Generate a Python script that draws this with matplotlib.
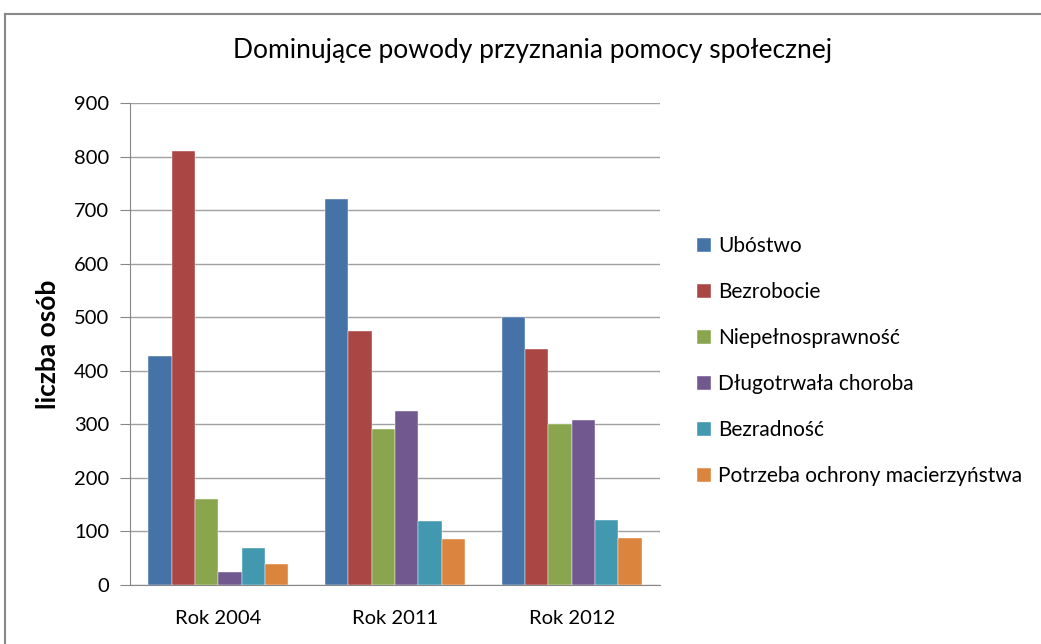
import numpy as np
import matplotlib.pyplot as plt
from matplotlib.lines import Line2D

plt.rcParams['font.family'] = ['Lato', 'DejaVu Sans']

lata = ['Rok 2004', 'Rok 2011', 'Rok 2012']
powody = ['Ubóstwo', 'Bezrobocie', 'Niepełnosprawność', 'Długotrwała choroba',
          'Bezradność', 'Potrzeba ochrony macierzyństwa']
ubostwo = [427, 720, 500]
bezrobocie = [810, 475, 440]
niepelnosprawnosc = [160, 291, 300]
choroba = [24, 325, 309]
bezradnosc = [70, 119, 122]
macierzynstwo = [40, 86, 88]
serie = [ubostwo, bezrobocie, niepelnosprawnosc, choroba, bezradnosc, macierzynstwo]
kolory = ['#4572A7', '#AA4643', '#89A54E', '#71588F', '#4198AF', '#DB843D']

W, H = 1041, 644
fig = plt.figure(figsize=(W / 100, H / 100), dpi=100)
ax = fig.add_axes([130 / W, 1 - 585 / H, 530 / W, 482 / H])

x = np.arange(len(lata))
w = 0.132
for i, (s, k) in enumerate(zip(serie, kolory)):
    ax.bar(x + (i - 2.5) * w, s, w, color=k, label=powody[i],
           edgecolor='white', linewidth=0.3, zorder=3)

ax.set_xlim(-0.5, 2.5)
ax.set_ylim(0, 900)
ax.set_yticks(range(0, 901, 100))
ax.yaxis.grid(True, color='#a0a0a0', linewidth=1, zorder=0)
ax.set_xticks(x)
ax.set_xticklabels(lata, fontsize=14.5)
ax.tick_params(axis='x', length=0, pad=18)
ax.tick_params(axis='y', labelsize=14.5, length=7, color='#888888', pad=8)
for s in ['top', 'right']:
    ax.spines[s].set_visible(False)
for s in ['left', 'bottom']:
    ax.spines[s].set_color('#888888')
ax.set_ylabel('liczba osób', fontsize=19, fontweight='bold', labelpad=10)

fig.suptitle('Dominujące powody przyznania pomocy społecznej', fontsize=19,
             x=533 / W, y=1 - 38 / H)

fig.legend(*ax.get_legend_handles_labels(), loc='center left',
           bbox_to_anchor=(697 / W, 1 - 361 / H), frameon=False,
           fontsize=15, handlelength=0.65, handleheight=0.65, handletextpad=0.35,
           labelspacing=1.25, borderpad=0, borderaxespad=0)

# ramka wykresu
fig.add_artist(Line2D([5 / W, 5 / W], [0, 1 - 14 / H], color='#888888', lw=1.5))
fig.add_artist(Line2D([5 / W, 1], [1 - 14 / H, 1 - 14 / H], color='#888888', lw=1.5))

fig.savefig('out.png', dpi=100)
